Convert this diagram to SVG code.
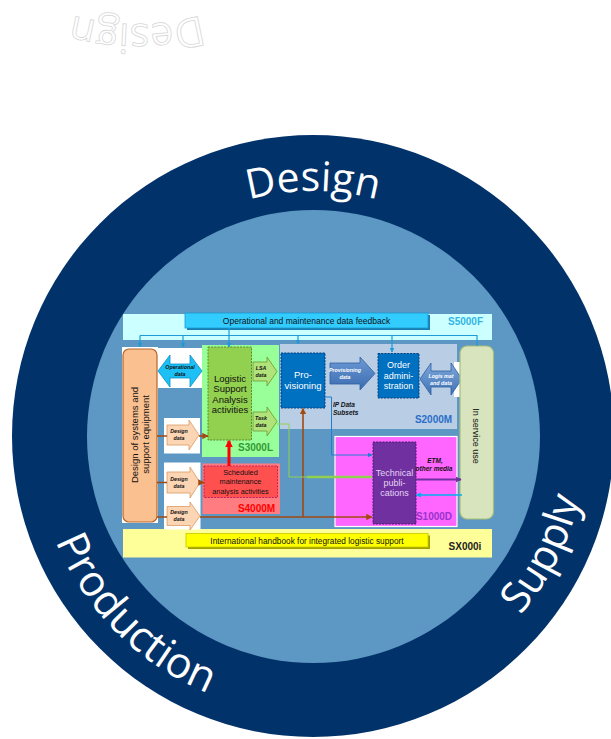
<svg xmlns="http://www.w3.org/2000/svg" xmlns:xlink="http://www.w3.org/1999/xlink" width="611" height="739" viewBox="0 0 611 739">
<style>
.ring{font-family:"Open Sans","Noto Sans","DejaVu Sans",sans-serif;fill:#fff}
.t{font-family:"Liberation Sans",Arial,sans-serif;fill:#111;text-anchor:middle}
.tw{font-family:"Liberation Sans",Arial,sans-serif;fill:#fff;text-anchor:middle}
.small{font-size:5.3px;font-weight:bold;font-style:italic}
.lab{font-family:"Liberation Sans",Arial,sans-serif;font-weight:bold;font-size:10px}
.fb{fill:none;stroke:#1e9ad6;stroke-width:1.2}
.br{fill:none;stroke:#a04a12;stroke-width:1.6}
.dash{stroke-dasharray:2 1.2}
.dd{fill:#fcd5b4;stroke:#dc9a60;stroke-width:0.8}
.wh{fill:#fff}
</style>
<defs>
<path id="pDesign" d="M 68,436 A 245,245 0 0 1 558,436"/>
<path id="pProd" d="M 35,436 A 278,278 0 0 0 313,714"/>
<path id="pSupply" d="M 474.1,657.7 A 274,274 0 0 0 587,436"/>
<marker id="mBlue" viewBox="0 0 10 10" refX="9" refY="5" markerWidth="4" markerHeight="4" orient="auto"><path d="M0,0 L10,5 L0,10 Z" fill="#1e9ad6"/></marker>
<marker id="mBrown" viewBox="0 0 10 10" refX="9" refY="5" markerWidth="4" markerHeight="4" orient="auto"><path d="M0,0 L10,5 L0,10 Z" fill="#a04a12"/></marker>
<marker id="mRed" viewBox="0 0 10 10" refX="8" refY="5" markerWidth="2.6" markerHeight="2.6" orient="auto"><path d="M0,0 L10,5 L0,10 Z" fill="#ff0000"/></marker>
<marker id="mIP" viewBox="0 0 10 10" refX="9" refY="5" markerWidth="4.5" markerHeight="4.5" orient="auto"><path d="M0,0 L10,5 L0,10 Z" fill="#1e7fd0"/></marker>
<marker id="mPurple" viewBox="0 0 10 10" refX="9" refY="5" markerWidth="3" markerHeight="3" orient="auto"><path d="M0,0 L10,5 L0,10 Z" fill="#7030a0"/></marker>
<marker id="mCyan" viewBox="0 0 10 10" refX="9" refY="5" markerWidth="3.5" markerHeight="3.5" orient="auto"><path d="M0,0 L10,5 L0,10 Z" fill="#00b0f0"/></marker>
<linearGradient id="gLog" x1="0" y1="0" x2="0" y2="1"><stop offset="0" stop-color="#7fa8dc"/><stop offset="1" stop-color="#3f72b5"/></linearGradient>
<linearGradient id="gProv" x1="0" y1="0" x2="0" y2="1"><stop offset="0" stop-color="#6e9ad6"/><stop offset="1" stop-color="#3a6cb0"/></linearGradient>
</defs>

<g id="mirror-design">
<text class="ring" font-size="41" fill="#fff" stroke="#d8d8d8" stroke-width="0.8" transform="rotate(180 225 107.5)"><textPath href="#pDesign" xlink:href="#pDesign" startOffset="50%" text-anchor="middle">Design</textPath></text>
</g>

<g id="rings">
<circle cx="313" cy="436" r="301" fill="#02326a"/>
<circle cx="313.5" cy="436.5" r="226.5" fill="#5d97c3"/>
</g>

<g id="ring-labels">
<text class="ring" font-size="41"><textPath href="#pDesign" xlink:href="#pDesign" startOffset="50%" text-anchor="middle">Design</textPath></text>
<text class="ring" font-size="43"><textPath href="#pProd" xlink:href="#pProd" startOffset="50%" text-anchor="middle">Production</textPath></text>
<text class="ring" font-size="42"><textPath href="#pSupply" xlink:href="#pSupply" startOffset="50%" text-anchor="middle">Supply</textPath></text>
</g>

<g id="regions">
<rect id="S5000F-band" x="123" y="314" width="369" height="26" fill="#ccffff"/>
<rect id="S2000M-region" x="280" y="344" width="177" height="85" fill="#b9cde5"/>
<rect id="S3000L-region" x="202" y="345" width="77" height="112" fill="#99ff99"/>
<rect id="S4000M-region" x="202.5" y="463.5" width="77.5" height="50.5" fill="#ff7c80"/>
<rect id="S1000D-region" x="335" y="436.5" width="122" height="90" fill="#ff66ff" stroke="#fff" stroke-width="1.2"/>
<rect id="SX000i-band" x="123" y="529" width="369" height="28.5" fill="#ffff99"/>
<rect x="454" y="362" width="6" height="35" class="wh"/>
<rect x="122" y="347" width="36" height="176" class="wh"/>
<rect x="157" y="348" width="45" height="40" class="wh"/>
<rect x="164" y="418" width="36" height="35.5" class="wh"/>
<rect x="164" y="462.5" width="36.5" height="67" class="wh"/>
<text class="lab" x="465.5" y="324.5" fill="#33b5e5" text-anchor="middle">S5000F</text>
<text class="lab" x="433.5" y="422.5" fill="#2a6fc9" text-anchor="middle">S2000M</text>
<text class="lab" x="255.5" y="450.5" fill="#339933" text-anchor="middle">S3000L</text>
<text class="lab" x="256.5" y="511.5" fill="#ff0000" text-anchor="middle">S4000M</text>
<text class="lab" x="434" y="519.5" fill="#9933cc" text-anchor="middle">S1000D</text>
<text class="lab" x="465" y="549.5" fill="#222" text-anchor="middle" font-size="9.5">SX000i</text>
</g>

<g id="feedback-bar">
<rect x="187" y="315" width="243" height="15" fill="#1a7fb0"/>
<rect x="185" y="313" width="243" height="15" fill="#33ccff" stroke="#1a9ad0" stroke-width="0.8"/>
<text class="t" x="306.5" y="323.8" font-size="8.5">Operational and maintenance data feedback</text>
</g>

<g id="handbook-bar">
<rect x="188" y="535.5" width="242" height="13.5" fill="#a0a000"/>
<rect x="186" y="533.5" width="242" height="13.5" fill="#ffff00" stroke="#c8c800" stroke-width="0.8"/>
<text class="t" x="307" y="543.5" font-size="8.3">International handbook for integrated logistic support</text>
</g>

<g id="design-systems">
<rect x="123" y="349" width="34" height="173" rx="6" fill="#fac090" stroke="#b5652a" stroke-width="1.2"/>
<text class="t" font-size="9.5" transform="translate(137.8 435) rotate(-90)">Design of systems and</text>
<text class="t" font-size="9.5" transform="translate(148.8 434.5) rotate(-90)">support equipment</text>
</g>

<g id="operational-data">
<polygon points="158,371 170,355 170,364 190,364 190,355 202,371 190,387 190,378 170,378 170,387" fill="#1cc0f4" stroke="#0a8fc8" stroke-width="0.8"/>
<text class="t small" x="180" y="369">Operational</text>
<text class="t small" x="180" y="376">data</text>
</g>

<g id="lsa-activities">
<rect x="208" y="347" width="43.5" height="93" fill="#92d050" stroke="#5a8a2a" stroke-width="1" class="dash"/>
<text class="t" font-size="9.5" x="230" y="381.5" fill="#222">Logistic</text>
<text class="t" font-size="9.5" x="230" y="392">Support</text>
<text class="t" font-size="9.5" x="230" y="402.5">Analysis</text>
<text class="t" font-size="9.5" x="230" y="412.5">activities</text>
</g>

<g id="lsa-data">
<polygon points="253,362 267,362 267,357 277,371.5 267,386 267,381 253,381" fill="#b2e27a" stroke="#6a9a30" stroke-width="0.8"/>
<text class="t small" x="261" y="369.5">LSA</text>
<text class="t small" x="261" y="376.5">data</text>
</g>

<g id="task-data">
<polygon points="253,412 267,412 267,407 277,421.5 267,436 267,431 253,431" fill="#b2e27a" stroke="#6a9a30" stroke-width="0.8"/>
<text class="t small" x="261" y="419.5">Task</text>
<text class="t small" x="261" y="426.5">data</text>
</g>

<g id="provisioning">
<rect x="281" y="353" width="44" height="55" fill="#0070c0" stroke="#003e80" stroke-width="1" class="dash"/>
<text class="tw" font-size="9.5" x="303" y="378">Pro-</text>
<text class="tw" font-size="9.5" x="303" y="389">visioning</text>
</g>

<g id="provisioning-data">
<polygon points="330,363 360,363 360,357 375,373.5 360,390 360,384 330,384" fill="url(#gProv)" stroke="#2f5f9f" stroke-width="0.8"/>
<text class="tw small" x="345" y="372">Provisioning</text>
<text class="tw small" x="345" y="379">data</text>
</g>

<g id="order-administration">
<rect x="378" y="353.5" width="41" height="44.5" fill="#0070c0" stroke="#003e80" stroke-width="1" class="dash"/>
<text class="tw" font-size="9" x="398.5" y="368">Order</text>
<text class="tw" font-size="9" x="398.5" y="378.8">admini-</text>
<text class="tw" font-size="9" x="398.5" y="389">stration</text>
</g>

<g id="logistics-data">
<polygon points="420,379 431,363 431,371 451,371 451,363 462,379 451,395 451,387 431,387 431,395" fill="url(#gLog)" stroke="#2f5f9f" stroke-width="0.8"/>
<text class="tw small" x="441" y="378" font-size="5">Logis mat</text>
<text class="tw small" x="441" y="384.5" font-size="5">and data</text>
</g>

<g id="in-service-use">
<rect x="460" y="346" width="33.5" height="173" rx="7" fill="#d7e4bd" stroke="#a8bf7a" stroke-width="1.2"/>
<text class="t" font-size="9" transform="translate(473 436) rotate(90)">In service use</text>
</g>

<g id="design-data-1">
<polygon points="167,425 189,425 189,420 199,435 189,450 189,445 167,445" class="dd"/>
<text class="t small" x="179" y="433">Design</text>
<text class="t small" x="179" y="440">data</text>
</g>
<g id="design-data-2">
<polygon points="167,472 190,472 190,467 200,482.5 190,498 190,493 167,493" class="dd"/>
<text class="t small" x="179" y="480.5">Design</text>
<text class="t small" x="179" y="487.5">data</text>
</g>
<g id="design-data-3">
<polygon points="167,506.5 190,506.5 190,502 200,516 190,530 190,525.5 167,525.5" class="dd"/>
<text class="t small" x="179" y="514">Design</text>
<text class="t small" x="179" y="521">data</text>
</g>

<g id="scheduled-maintenance">
<rect x="204" y="466" width="73.5" height="31.5" fill="#ff5050" stroke="#c02060" stroke-width="1" class="dash"/>
<text class="t" font-size="7.3" x="240.5" y="474.5" fill="#222">Scheduled</text>
<text class="t" font-size="7.3" x="240.5" y="484.3" fill="#222">maintenance</text>
<text class="t" font-size="7.3" x="240.5" y="494" fill="#222">analysis activities</text>
</g>

<g id="technical-publications">
<rect x="373" y="442" width="43" height="82" fill="#7030a0" stroke="#4a1a70" stroke-width="1" class="dash"/>
<text x="394.5" y="476" font-size="9" fill="#e6d2f5" text-anchor="middle" font-family="Liberation Sans, Arial, sans-serif">Technical</text>
<text x="394.5" y="485.5" font-size="9" fill="#e6d2f5" text-anchor="middle" font-family="Liberation Sans, Arial, sans-serif">publi-</text>
<text x="394.5" y="495.5" font-size="9" fill="#e6d2f5" text-anchor="middle" font-family="Liberation Sans, Arial, sans-serif">cations</text>
</g>

<g id="notes">
<text x="435" y="462.5" font-size="6.5" font-weight="bold" font-style="italic" fill="#111" text-anchor="middle" font-family="Liberation Sans, Arial, sans-serif">ETM,</text>
<text x="434" y="470.5" font-size="6.5" font-weight="bold" font-style="italic" fill="#111" text-anchor="middle" font-family="Liberation Sans, Arial, sans-serif">other media</text>
<text x="333" y="407" font-size="6.5" font-weight="bold" font-style="italic" font-family="Liberation Sans, Arial, sans-serif" fill="#111">IP Data</text>
<text x="333" y="414.5" font-size="6.5" font-weight="bold" font-style="italic" font-family="Liberation Sans, Arial, sans-serif" fill="#111">Subsets</text>
</g>

<g id="connectors">
<path class="fb" d="M229,328 V335.5 M140,335.5 H477 V346"/>
<path class="fb" d="M140,335.5 V347" marker-end="url(#mBlue)"/>
<path class="fb" d="M183,335.5 V347" marker-end="url(#mBlue)"/>
<path class="fb" d="M229,335.5 V347" marker-end="url(#mBlue)"/>
<path class="fb" d="M298,335.5 V344" marker-end="url(#mBlue)"/>
<path class="fb" d="M392,335.5 V352" marker-end="url(#mBlue)"/>
<path class="br" d="M157,436 H167 M157,482.5 H167 M157,517 H167"/>
<path class="br" d="M199,436 H208" marker-end="url(#mBrown)"/>
<path class="br" d="M200,482.5 H204" marker-end="url(#mBrown)"/>
<path class="br" d="M200,517 H372" marker-end="url(#mBrown)"/>
<path class="br" d="M303,517 V408.5" marker-end="url(#mBrown)"/>
<path d="M229,466 V441" fill="none" stroke="#ff0000" stroke-width="3" marker-end="url(#mRed)"/>
<path d="M325,397 H331.5 V455 H372" fill="none" stroke="#1e7fd0" stroke-width="1" marker-end="url(#mIP)"/>
<path d="M277,424 H289 V477 H307" fill="none" stroke="#92d050" stroke-width="1"/>
<path d="M307,477 H372" fill="none" stroke="#92d050" stroke-width="2.5"/>
<path d="M416,479.5 H461" fill="none" stroke="#7030a0" stroke-width="2" marker-end="url(#mPurple)"/>
<path d="M462,495 H416.5" fill="none" stroke="#00b0f0" stroke-width="1.5" marker-end="url(#mCyan)"/>
</g>
</svg>
